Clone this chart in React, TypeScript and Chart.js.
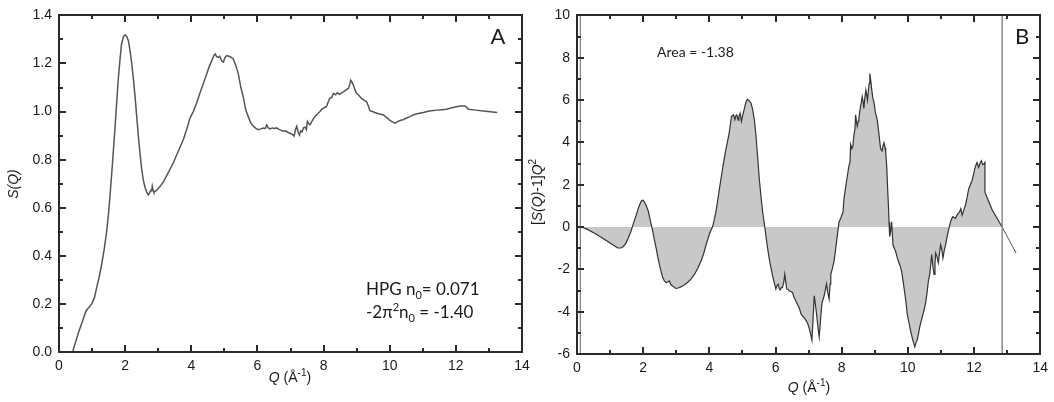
import React, { useEffect, useRef } from 'react';
import { Chart, registerables } from 'chart.js';

Chart.register(...registerables);

// ---------- Panel A : S(Q) ----------
const qA = [
  0.41, 0.6, 0.82, 0.99, 1.07, 1.14, 1.22, 1.29, 1.37, 1.44, 1.5, 1.56, 1.62, 1.69, 1.74, 1.79, 1.84, 1.89, 1.95, 2.0,
  2.05, 2.1, 2.15, 2.2, 2.25, 2.3, 2.35, 2.4, 2.45, 2.5, 2.55, 2.6, 2.65, 2.7, 2.74, 2.77, 2.8, 2.82, 2.85, 2.87,
  2.95, 3.05, 3.15, 3.3, 3.46, 3.6, 3.76, 3.86, 3.96, 4.06, 4.16, 4.26, 4.36, 4.47, 4.55, 4.62, 4.68, 4.72, 4.77, 4.82,
  4.86, 4.92, 4.97, 5.02, 5.07, 5.14, 5.2, 5.27, 5.35, 5.42, 5.5, 5.57, 5.65, 5.72, 5.8, 5.88, 5.95, 6.03, 6.1, 6.18,
  6.24, 6.28, 6.33, 6.38, 6.45, 6.52, 6.58, 6.65, 6.72, 6.78, 6.85, 6.92, 6.98, 7.04, 7.08, 7.11, 7.15, 7.19, 7.23, 7.27,
  7.31, 7.35, 7.39, 7.44, 7.48, 7.51, 7.55, 7.59, 7.65, 7.7, 7.74, 7.8, 7.89, 7.95, 8.02, 8.09, 8.14, 8.19, 8.25, 8.3,
  8.36, 8.42, 8.48, 8.55, 8.6, 8.65, 8.7, 8.75, 8.79, 8.82, 8.86, 8.9, 8.95, 9.0, 9.05, 9.1, 9.15, 9.22, 9.3, 9.35,
  9.4, 9.48, 9.55, 9.61, 9.7, 9.81, 9.9, 10.01, 10.08, 10.16, 10.24, 10.31, 10.4, 10.51, 10.6, 10.71, 10.8, 10.9, 11.02, 11.1,
  11.2, 11.32, 11.45, 11.58, 11.72, 11.85, 11.98, 12.13, 12.28, 12.38, 12.6, 12.9, 13.25,
];
const sA = [
  0.0, 0.085, 0.172, 0.2, 0.225, 0.268, 0.315, 0.365, 0.43, 0.5, 0.58, 0.68, 0.79, 0.925, 1.03, 1.13, 1.21, 1.28, 1.312, 1.319,
  1.312, 1.294, 1.252, 1.199, 1.135, 1.062, 0.98, 0.898, 0.825, 0.761, 0.715, 0.686, 0.665, 0.654, 0.662, 0.672, 0.67, 0.69, 0.672, 0.665,
  0.672, 0.688, 0.706, 0.745, 0.788, 0.833, 0.884, 0.925, 0.973, 1.0, 1.035, 1.076, 1.115, 1.158, 1.19, 1.212, 1.232, 1.24, 1.228, 1.226,
  1.23, 1.21, 1.206, 1.225, 1.233, 1.23, 1.226, 1.219, 1.19, 1.158, 1.1, 1.062, 1.005, 0.98, 0.952, 0.939, 0.93, 0.925, 0.928, 0.932,
  0.93, 0.945, 0.932, 0.928, 0.932, 0.93, 0.932, 0.926, 0.922, 0.918, 0.92, 0.914, 0.91, 0.906, 0.902, 0.898, 0.925, 0.939, 0.915, 0.902,
  0.92, 0.915, 0.932, 0.935, 0.925, 0.959, 0.95, 0.945, 0.96, 0.972, 0.98, 0.988, 1.0, 1.01, 1.016, 1.021, 1.04, 1.055, 1.06, 1.076,
  1.07, 1.078, 1.072, 1.078, 1.082, 1.087, 1.092, 1.096, 1.112, 1.13, 1.122, 1.11, 1.09, 1.076, 1.07, 1.062, 1.055, 1.048, 1.041, 1.025,
  1.004, 1.0, 0.996, 0.993, 0.99, 0.986, 0.976, 0.963, 0.957, 0.952, 0.958, 0.963, 0.966, 0.973, 0.978, 0.986, 0.99, 0.993, 0.996, 0.999,
  1.002, 1.004, 1.006, 1.008, 1.01, 1.015, 1.019, 1.023, 1.023, 1.01, 1.006, 1.001, 0.996,
];

// ---------- Panel B : [S(Q)-1]Q^2 ----------
const qB = [
  0.13, 0.3, 0.53, 0.73, 0.93, 1.08, 1.23, 1.33, 1.4, 1.48, 1.55, 1.63, 1.7, 1.79, 1.86, 1.94, 1.99, 2.04, 2.1, 2.16,
  2.22, 2.29, 2.34, 2.39, 2.44, 2.49, 2.54, 2.59, 2.64, 2.69, 2.74, 2.79, 2.84, 2.9, 2.99, 3.06, 3.14, 3.24, 3.34, 3.45,
  3.55, 3.65, 3.75, 3.83, 3.9, 3.95, 4.0, 4.1, 4.2, 4.27, 4.35, 4.42, 4.5, 4.55, 4.6, 4.64, 4.67, 4.73, 4.77, 4.8,
  4.83, 4.87, 4.89, 4.93, 4.97, 5.01, 5.05, 5.09, 5.12, 5.15, 5.2, 5.26, 5.31, 5.36, 5.41, 5.46, 5.51, 5.56, 5.61, 5.68,
  5.72, 5.76, 5.8, 5.84, 5.88, 5.91, 5.96, 6.01, 6.05, 6.08, 6.11, 6.14, 6.18, 6.21, 6.25, 6.28, 6.31, 6.34, 6.38, 6.41,
  6.46, 6.51, 6.56, 6.61, 6.66, 6.71, 6.77, 6.82, 6.85, 6.92, 6.97, 7.02, 7.06, 7.1, 7.14, 7.17, 7.2, 7.24, 7.28, 7.32,
  7.36, 7.4, 7.44, 7.47, 7.51, 7.54, 7.58, 7.62, 7.65, 7.67, 7.72, 7.77, 7.82, 7.87, 7.92, 7.97, 8.0, 8.04, 8.07, 8.12,
  8.17, 8.22, 8.25, 8.27, 8.31, 8.34, 8.37, 8.4, 8.42, 8.45, 8.47, 8.5, 8.52, 8.55, 8.57, 8.6, 8.62, 8.65, 8.67, 8.7,
  8.73, 8.76, 8.78, 8.81, 8.83, 8.85, 8.88, 8.91, 8.94, 8.96, 8.99, 9.02, 9.05, 9.08, 9.11, 9.14, 9.17, 9.19, 9.22, 9.25,
  9.28, 9.31, 9.33, 9.36, 9.38, 9.41, 9.43, 9.45, 9.48, 9.51, 9.55, 9.59, 9.63, 9.68, 9.73, 9.77, 9.81, 9.86, 9.91, 9.95,
  9.98, 10.03, 10.08, 10.12, 10.15, 10.18, 10.21, 10.25, 10.28, 10.32, 10.36, 10.41, 10.46, 10.5, 10.54, 10.58, 10.62, 10.66, 10.69, 10.72,
  10.76, 10.79, 10.82, 10.84, 10.88, 10.92, 10.96, 10.99, 11.03, 11.06, 11.1, 11.14, 11.18, 11.22, 11.26, 11.29, 11.33, 11.36, 11.4, 11.44,
  11.48, 11.52, 11.56, 11.6, 11.64, 11.69, 11.74, 11.79, 11.84, 11.89, 11.94, 11.98, 12.02, 12.05, 12.09, 12.14, 12.18, 12.22, 12.26, 12.3,
  12.33, 12.33, 12.44, 12.55, 12.7, 12.85,
];
const vB = [
  0.0, -0.1, -0.29, -0.48, -0.68, -0.84, -0.99, -0.99, -0.92, -0.76, -0.52, -0.21, 0.15, 0.56, 0.92, 1.22, 1.27, 1.18, 0.98, 0.72,
  0.28, -0.21, -0.62, -0.99, -1.4, -1.77, -2.1, -2.39, -2.55, -2.62, -2.6, -2.55, -2.73, -2.8, -2.9, -2.88, -2.83, -2.74, -2.62, -2.45,
  -2.24, -1.95, -1.61, -1.25, -0.84, -0.6, -0.34, 0.02, 0.72, 1.45, 2.27, 2.95, 3.67, 4.05, 4.45, 4.9, 5.23, 5.3, 5.07, 5.25,
  5.3, 5.05, 5.2, 5.38, 4.99, 5.3, 5.54, 5.8, 5.95, 6.03, 5.98, 5.85, 5.55, 5.07, 4.3, 3.3, 2.27, 1.45, 0.72, -0.06,
  -0.55, -0.99, -1.4, -1.77, -2.05, -2.31, -2.62, -2.93, -2.75, -2.7, -2.9, -2.98, -2.85, -2.86, -2.6, -2.24, -2.6, -2.93, -2.95, -3.01,
  -3.05, -3.09, -3.32, -3.48, -3.65, -3.79, -4.1, -4.22, -4.26, -4.41, -4.55, -4.8, -5.05, -5.35, -4.2, -3.25, -3.6, -4.1, -4.7, -5.19,
  -4.4, -3.63, -3.4, -3.25, -2.95, -2.7, -3.1, -3.4, -2.7, -2.24, -1.95, -1.61, -1.0, -0.37, 0.25, 0.4, 0.56, 0.7, 1.34, 1.9,
  2.4, 2.9, 3.05, 3.9, 3.7, 3.83, 4.37, 4.6, 5.3, 4.95, 4.76, 5.0, 5.15, 5.5, 5.7, 5.95, 6.16, 5.9, 5.6, 6.1,
  6.47, 6.2, 6.0, 6.5, 6.78, 7.25, 6.9, 6.47, 6.1, 6.0, 5.75, 5.4, 5.23, 5.0, 4.6, 4.2, 3.75, 3.67, 3.6, 3.85,
  3.98, 3.75, 3.52, 2.9, 2.12, 1.1, 0.25, -0.45, -0.2, 0.25, -0.84, -1.0, -1.15, -1.46, -1.69, -1.85, -2.08, -2.6, -3.17, -3.65,
  -4.1, -4.5, -4.88, -5.15, -5.35, -5.5, -5.66, -5.45, -5.35, -5.05, -4.72, -4.4, -4.1, -3.85, -3.56, -3.1, -2.55, -2.24, -1.8, -1.3,
  -1.9, -2.24, -1.7, -1.23, -1.4, -1.69, -1.2, -0.84, -1.1, -1.46, -1.1, -0.84, -0.5, -0.21, 0.05, 0.25, 0.4, 0.49, 0.45, 0.41,
  0.55, 0.64, 0.7, 0.87, 0.56, 0.8, 1.03, 1.4, 1.81, 2.0, 2.2, 2.45, 2.74, 2.9, 3.05, 2.82, 3.0, 3.13, 2.95, 2.97,
  3.05, 1.65, 1.22, 0.8, 0.4, 0.0,
];
const qTail = [12.85, 13.27];
const vTail = [0.0, -1.23];
const markerQ = [0.1, 12.85];

// ---------- axes ----------
const xTicksA = { min: 0, max: 14, major: 2, minor: 1 };
const yTicksA = { min: 0, max: 1.4, major: 0.2, minor: 0.1 };
const xTicksB = { min: 0, max: 14, major: 2, minor: 1 };
const yTicksB = { min: -6, max: 10, major: 2, minor: 1 };

const W = 1054;
const H = 402;
const TICK_FONT = '14px "Liberation Sans", Arial, sans-serif';
const ANN = '"Lato", "Open Sans", sans-serif';
const FRAME = '#2a2a2a';

type Run = { t: string; f: string; dy?: number };

function drawRuns(ctx: CanvasRenderingContext2D, runs: Run[], x: number, y: number, align: 'left' | 'center') {
  let total = 0;
  const widths = runs.map((r) => {
    ctx.font = r.f;
    const w = ctx.measureText(r.t).width;
    total += w;
    return w;
  });
  let cx = align === 'center' ? x - total / 2 : x;
  runs.forEach((r, i) => {
    ctx.font = r.f;
    ctx.textAlign = 'left';
    ctx.fillText(r.t, cx, y + (r.dy || 0));
    cx += widths[i];
  });
}

function pts(xs: number[], ys: number[]) {
  return xs.map((x, i) => ({ x, y: ys[i] }));
}

function framePlugin(cfg: {
  xt: typeof xTicksA;
  yt: typeof yTicksA;
  texts: (ctx: CanvasRenderingContext2D) => void;
}) {
  return {
    id: 'frameTicks',
    afterDraw(chart: any) {
      const { ctx, chartArea: a, scales } = chart;
      const xs = scales.x;
      const ys = scales.y;
      const L = Math.round(a.left);
      const R = Math.round(a.right);
      const T = Math.round(a.top);
      const B = Math.round(a.bottom);
      ctx.save();
      ctx.fillStyle = FRAME;
      const nX = Math.round((cfg.xt.max - cfg.xt.min) / cfg.xt.minor);
      for (let i = 0; i <= nX; i++) {
        const v = cfg.xt.min + i * cfg.xt.minor;
        const major = Math.abs(v / cfg.xt.major - Math.round(v / cfg.xt.major)) < 1e-6;
        const len = major ? 7 : 4;
        const px = Math.round(xs.getPixelForValue(v));
        ctx.fillRect(px - 1, B - len, 2, len);
        ctx.fillRect(px - 1, T, 2, len);
      }
      const nY = Math.round((cfg.yt.max - cfg.yt.min) / cfg.yt.minor);
      for (let i = 0; i <= nY; i++) {
        const v = cfg.yt.min + i * cfg.yt.minor;
        const major = Math.abs(v / cfg.yt.major - Math.round(v / cfg.yt.major)) < 1e-6;
        const len = major ? 7 : 4;
        const py = Math.round(ys.getPixelForValue(v));
        ctx.fillRect(L, py - 1, len, 2);
        ctx.fillRect(R - len, py - 1, len, 2);
      }
      // frame (solid 2px)
      ctx.fillRect(L - 1, T - 1, R - L + 2, 2);
      ctx.fillRect(L - 1, B - 1, R - L + 2, 2);
      ctx.fillRect(L - 1, T - 1, 2, B - T + 2);
      ctx.fillRect(R - 1, T - 1, 2, B - T + 2);
      ctx.fillStyle = '#1a1a1a';
      ctx.textBaseline = 'alphabetic';
      cfg.texts(ctx);
      ctx.restore();
    },
  };
}

function makeOptions(pad: any, xt: any, yt: any, yWidth: number, xHeight: number, yFmt: (v: number) => string) {
  return {
    responsive: false,
    maintainAspectRatio: false,
    animation: false as const,
    devicePixelRatio: 1,
    layout: { padding: pad },
    plugins: { legend: { display: false }, tooltip: { enabled: false } },
    elements: { point: { radius: 0 }, line: { tension: 0 } },
    scales: {
      x: {
        type: 'linear' as const,
        min: xt.min,
        max: xt.max,
        grid: { display: false, drawTicks: false },
        border: { display: false },
        ticks: {
          stepSize: xt.major,
          padding: 6,
          autoSkip: false,
          maxRotation: 0,
          color: '#1a1a1a',
          font: { family: '"Liberation Sans", Arial, sans-serif', size: 14 },
          callback: (v: any) => String(Math.round(Number(v))),
        },
        afterFit: (s: any) => {
          s.height = xHeight;
        },
      },
      y: {
        type: 'linear' as const,
        min: yt.min,
        max: yt.max,
        grid: { display: false, drawTicks: false },
        border: { display: false },
        ticks: {
          stepSize: yt.major,
          padding: 7,
          autoSkip: false,
          color: '#1a1a1a',
          font: { family: '"Liberation Sans", Arial, sans-serif', size: 14 },
          callback: (v: any) => yFmt(Number(v)),
        },
        afterFit: (s: any) => {
          s.width = yWidth;
        },
      },
    },
  };
}

export default function App() {
  const refA = useRef<HTMLCanvasElement>(null);
  const refB = useRef<HTMLCanvasElement>(null);

  useEffect(() => {
    document.body.style.margin = '0';
    const it = 'italic 14px "Liberation Sans", Arial, sans-serif';
    const nf = TICK_FONT;
    const sup = '10px "Liberation Sans", Arial, sans-serif';

    const chartA = new Chart(refA.current!, {
      type: 'line',
      data: {
        datasets: [
          {
            data: pts(qA, sA),
            borderColor: '#555555',
            borderWidth: 1.5,
            fill: false,
          },
        ],
      },
      options: makeOptions({ left: 0, top: 11, right: W - 522, bottom: 0 }, xTicksA, yTicksA, 59, H - 352, (v) =>
        v.toFixed(1)
      ) as any,
      plugins: [
        framePlugin({
          xt: xTicksA,
          yt: yTicksA,
          texts: (ctx) => {
            ctx.textBaseline = 'middle';
            drawRuns(ctx, [{ t: 'A', f: `22px ${ANN}` }], 498, 37, 'center');
            drawRuns(
              ctx,
              [
                { t: 'Q', f: it },
                { t: ' (Å', f: nf },
                { t: '-1', f: sup, dy: -5 },
                { t: ')', f: nf },
              ],
              290,
              378,
              'center'
            );
            ctx.save();
            ctx.translate(14, 184);
            ctx.rotate(-Math.PI / 2);
            drawRuns(ctx, [{ t: 'S(Q)', f: it }], 0, 0, 'center');
            ctx.restore();
            ctx.textBaseline = 'alphabetic';
            const big = `17px ${ANN}`;
            const small = `11px ${ANN}`;
            drawRuns(
              ctx,
              [
                { t: 'HPG n', f: big },
                { t: '0', f: small, dy: 4 },
                { t: '= 0.071', f: big },
              ],
              366,
              295,
              'left'
            );
            drawRuns(
              ctx,
              [
                { t: '-2π', f: big },
                { t: '2', f: small, dy: -7 },
                { t: 'n', f: big },
                { t: '0', f: small, dy: 4 },
                { t: ' = -1.40', f: big },
              ],
              366,
              318,
              'left'
            );
          },
        }),
      ],
    });

    const chartB = new Chart(refB.current!, {
      type: 'line',
      data: {
        datasets: [
          {
            data: [
              { x: markerQ[1], y: yTicksB.min },
              { x: markerQ[1], y: yTicksB.max },
            ],
            borderColor: '#8a8a8a',
            borderWidth: 1.5,
            fill: false,
          },
          {
            data: [
              { x: markerQ[0], y: yTicksB.min },
              { x: markerQ[0], y: yTicksB.max },
            ],
            borderColor: '#6a6a6a',
            borderWidth: 1,
            fill: false,
          },
          {
            data: pts(qTail, vTail),
            borderColor: '#555555',
            borderWidth: 1,
            fill: false,
          },
          {
            data: pts(qB, vB),
            borderColor: '#333333',
            borderWidth: 1.2,
            backgroundColor: '#c8c8c8',
            fill: 'origin',
          },
        ],
      },
      options: makeOptions({ left: 527, top: 11, right: W - 1041, bottom: 0 }, xTicksB, yTicksB, 50, H - 354, (v) =>
        String(Math.round(v))
      ) as any,
      plugins: [
        framePlugin({
          xt: xTicksB,
          yt: yTicksB,
          texts: (ctx) => {
            ctx.textBaseline = 'middle';
            drawRuns(ctx, [{ t: 'B', f: `22px ${ANN}` }], 1022, 37, 'center');
            drawRuns(
              ctx,
              [
                { t: 'Q', f: it },
                { t: ' (Å', f: nf },
                { t: '-1', f: sup, dy: -5 },
                { t: ')', f: nf },
              ],
              809,
              388,
              'center'
            );
            ctx.save();
            ctx.translate(538, 192);
            ctx.rotate(-Math.PI / 2);
            drawRuns(
              ctx,
              [
                { t: '[', f: nf },
                { t: 'S(Q)', f: it },
                { t: '-1]', f: nf },
                { t: 'Q', f: it },
                { t: '2', f: sup, dy: -5 },
              ],
              0,
              0,
              'center'
            );
            ctx.restore();
            ctx.textBaseline = 'alphabetic';
            drawRuns(ctx, [{ t: 'Area = -1.38', f: `14px ${ANN}` }], 657, 57, 'left');
          },
        }),
      ],
    });

    return () => {
      chartA.destroy();
      chartB.destroy();
    };
  }, []);

  return (
    <div style={{ position: 'absolute', left: 0, top: 0, width: W, height: H, background: '#ffffff' }}>
      <canvas ref={refA} width={W} height={H} style={{ position: 'absolute', left: 0, top: 0 }} />
      <canvas ref={refB} width={W} height={H} style={{ position: 'absolute', left: 0, top: 0 }} />
    </div>
  );
}
